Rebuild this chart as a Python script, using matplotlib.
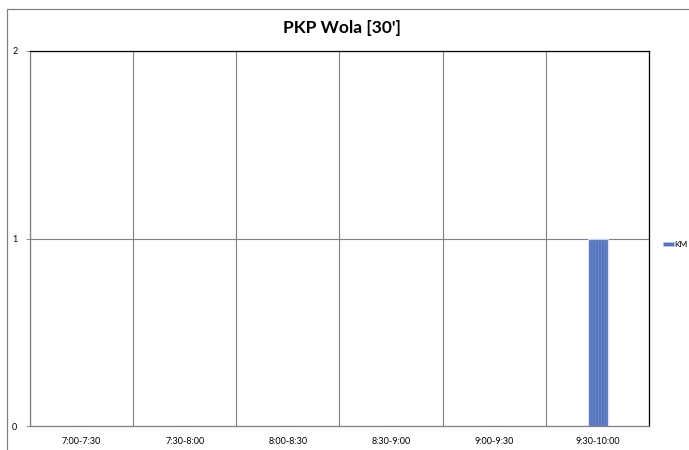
import numpy as np
import matplotlib.pyplot as plt
from matplotlib.patches import Rectangle

plt.rcParams['font.family'] = ['Lato', 'DejaVu Sans']
plt.rcParams['hatch.linewidth'] = 0.4

categories = ['7:00-7:30', '7:30-8:00', '8:00-8:30', '8:30-9:00', '9:00-9:30', '9:30-10:00']
km_values = [0, 0, 0, 0, 0, 1]
y_ticks = [0, 1, 2]

fig = plt.figure(figsize=(6.89, 4.50), dpi=100)
ax = fig.add_axes([30 / 689, 24 / 450, 619 / 689, 375 / 450])

x = np.arange(len(categories))
# textured blue fill: solid base plus a faint hatch on top
ax.bar(x + 0.005, km_values, width=0.2, color='#5475bd', edgecolor='#dbe4f5', linewidth=0.8, zorder=3)
ax.bar(x + 0.005, km_values, width=0.2, color='none', edgecolor='#7d98d3', hatch='||||||',
       linewidth=0, zorder=4)

ax.set_xlim(-0.5, len(categories) - 0.5)
ax.set_ylim(0, 2)
ax.set_yticks(y_ticks)
ax.set_yticklabels([str(v) for v in y_ticks], fontsize=6.5)
ax.set_xticks(x)
ax.set_xticklabels(categories, fontsize=6.5)
ax.tick_params(axis='x', length=0, pad=8)
ax.tick_params(axis='y', length=3, width=0.6, color='#808080', pad=6)

# gridlines at category boundaries and value 1
ax.set_xticks(np.arange(-0.5, len(categories)), minor=True)
ax.tick_params(axis='x', which='minor', length=0)
ax.grid(True, which='minor', axis='x', color='#808080', linewidth=0.8, zorder=0)
ax.grid(True, which='major', axis='y', color='#808080', linewidth=0.8, zorder=0)

for side in ['left', 'bottom']:
    ax.spines[side].set_color('#808080')
    ax.spines[side].set_linewidth(0.9)
for side in ['top', 'right']:
    ax.spines[side].set_color('black')
    ax.spines[side].set_linewidth(0.9)

fig.text(0.496, 1 - 28 / 450, "PKP Wola [30']", ha='center', va='center',
         fontsize=12.5, fontweight='bold')

# legend
fig.patches.append(Rectangle((663 / 689, 1 - 246 / 450), 11 / 689, 4 / 450,
                             transform=fig.transFigure, facecolor='#5475bd',
                             edgecolor='#b8c8ea', linewidth=0.5))
fig.text(674.5 / 689, 1 - 244 / 450, 'KM', fontsize=6, va='center', ha='left')

# outer chart border
fig.patches.append(Rectangle((7 / 689, -0.01), 1.0, 1 - 9 / 450 + 0.01,
                             transform=fig.transFigure, fill=False,
                             edgecolor='#808080', linewidth=0.9))

fig.savefig('out.png', dpi=100)
